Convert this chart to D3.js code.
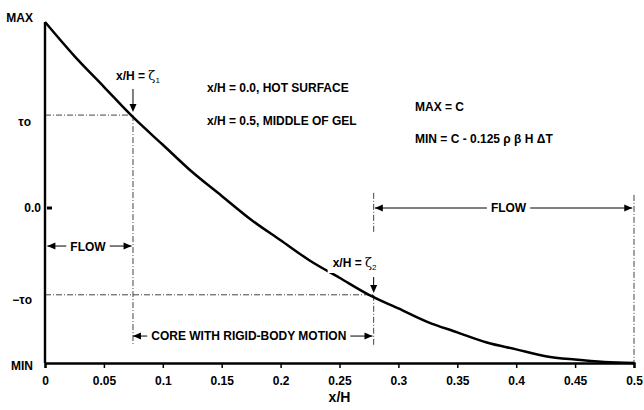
<!DOCTYPE html>
<html>
<head>
<meta charset="utf-8">
<script src="https://cdn.jsdelivr.net/npm/d3@7"></script>
<style>
  body { margin: 0; background: #fff; }
  svg text { font-family: "Liberation Sans", Arial, sans-serif; font-weight: bold; fill: #000; }
</style>
</head>
<body>
<svg id="chart" width="644" height="410"></svg>
<script>
// curve (stress, 1 = MAX, 0 = MIN)
const xh = [0, 0.025, 0.05, 0.075, 0.1, 0.125, 0.15, 0.175, 0.2, 0.225, 0.25,
  0.275, 0.3, 0.325, 0.35, 0.375, 0.4, 0.425, 0.45, 0.475, 0.5];
const stress = [1, 0.90, 0.81, 0.72, 0.64, 0.56, 0.49, 0.42, 0.36, 0.30, 0.25,
  0.20, 0.16, 0.12, 0.09, 0.06, 0.04, 0.02, 0.01, 0.003, 0];

const xTicks = [0, 0.05, 0.1, 0.15, 0.2, 0.25, 0.3, 0.35, 0.4, 0.45, 0.5];
const yLabels = ["MAX", "\u03C4o", "0.0", "\u2212\u03C4o", "MIN"];
const yValues = [1, 0.727, 0.4545, 0.2, 0];

const zeta = [0.0747, 0.279]; // x/H = zeta1, zeta2
const tauO = 0.727, minusTauO = 0.2, zero = 0.4545;

const notes = ["x/H = 0.0, HOT SURFACE", "x/H = 0.5, MIDDLE OF GEL"];
const formulas = ["MAX = C", "MIN = C - 0.125 \u03C1 \u03B2 H \u0394T"];

const svg = d3.select("#chart");

const x = d3.scaleLinear().domain([0, 0.5]).range([45, 634]);
const y = d3.scaleLinear().domain([0, 1]).range([363, 22]);

const dash = "6,2,1,2";
const dashColor = "#444";

function arrowHead(px, py, dir) {
  const L = 8, W = 3.5;
  let p;
  if (dir === "left") p = [[px, py], [px + L, py - W], [px + L, py + W]];
  else if (dir === "right") p = [[px, py], [px - L, py - W], [px - L, py + W]];
  else p = [[px, py], [px - W, py - L], [px + W, py - L]];
  svg.append("path").attr("d", "M" + p.join("L") + "Z").attr("fill", "#000");
}

function dashLine(x1, y1, x2, y2) {
  svg.append("line")
    .attr("x1", x1).attr("y1", y1).attr("x2", x2).attr("y2", y2)
    .attr("stroke", dashColor).attr("stroke-width", 1)
    .attr("stroke-dasharray", dash);
}

// dash-dot guide lines
dashLine(x(0), y(tauO), x(zeta[0]), y(tauO));
dashLine(x(zeta[0]), y(tauO), x(zeta[0]), y(0.05));
dashLine(x(0), y(minusTauO), x(zeta[1]), y(minusTauO));
dashLine(x(zeta[1]), y(minusTauO), x(zeta[1]), y(0.047));
dashLine(x(zeta[1]), y(0.499), x(zeta[1]), y(0.382));
dashLine(x(0.5), y(0.493), x(0.5), y(0));

// curve
svg.append("path")
  .datum(xh.map((d, i) => [d, stress[i]]))
  .attr("fill", "none")
  .attr("stroke", "#000")
  .attr("stroke-width", 2.5)
  .attr("stroke-linejoin", "round")
  .attr("d", d3.line().curve(d3.curveMonotoneX).x(d => x(d[0])).y(d => y(d[1])));

// x axis
const xAxis = d3.axisBottom(x)
  .tickValues(xTicks)
  .tickSize(5)
  .tickPadding(8)
  .tickFormat(d => String(+d.toFixed(2)));

const gx = svg.append("g")
  .attr("transform", `translate(0, ${y(0)})`)
  .call(xAxis);
gx.select(".domain").attr("stroke-width", 2.4);
gx.selectAll(".tick line").attr("stroke-width", 1.5);
gx.selectAll("text").style("font-size", "12px").style("font-weight", "bold")
  .style("font-family", "'Liberation Sans', Arial, sans-serif");

svg.append("text")
  .attr("x", x(0.25)).attr("y", 402)
  .attr("text-anchor", "middle")
  .style("font-size", "14px")
  .text("x/H");

// y axis line
svg.append("line")
  .attr("x1", x(0)).attr("x2", x(0))
  .attr("y1", y(1)).attr("y2", y(0))
  .attr("stroke", "#000").attr("stroke-width", 2.4);

// small mark at 0.0
svg.append("line")
  .attr("x1", x(0) + 2).attr("x2", x(0) + 7)
  .attr("y1", y(zero)).attr("y2", y(zero))
  .attr("stroke", "#000").attr("stroke-width", 3);

// y labels (nudged like the original)
const yLabX = [33, 31, 41, 32, 33];
const yLabDy = [0, 11, 4, 9, 7];
svg.selectAll(".ylab")
  .data(yLabels)
  .enter()
  .append("text")
  .attr("class", "ylab")
  .attr("x", (d, i) => yLabX[i])
  .attr("y", (d, i) => y(yValues[i]) + yLabDy[i])
  .attr("text-anchor", "end")
  .style("font-size", "12px")
  .text(d => d);

// horizontal double arrows with label
function spanArrow(a, b, mid, v, label, dy) {
  const py = y(v);
  const t = svg.append("text")
    .attr("x", x(mid)).attr("y", py + dy)
    .attr("text-anchor", "middle")
    .style("font-size", "12px")
    .text(label);
  const w = t.node().getComputedTextLength();
  const left = x(mid) - w / 2 - 4, right = x(mid) + w / 2 + 4;
  svg.append("line").attr("x1", x(a)).attr("x2", left).attr("y1", py).attr("y2", py)
    .attr("stroke", "#000").attr("stroke-width", 1);
  svg.append("line").attr("x1", right).attr("x2", x(b)).attr("y1", py).attr("y2", py)
    .attr("stroke", "#000").attr("stroke-width", 1);
  arrowHead(x(a), py, "left");
  arrowHead(x(b), py, "right");
}

spanArrow(0.002, 0.0735, 0.0365, 0.343, "FLOW", 5);
spanArrow(zeta[0], zeta[1] - 0.001, 0.173, 0.079, "CORE WITH RIGID-BODY MOTION", 4);
spanArrow(zeta[1] + 0.001, 0.4985, 0.3935, zero, "FLOW", 4);

// zeta labels with down arrows
function zetaLabel(z, sub, vTop, vTip, dx, baseline, knockout) {
  const t = svg.append("text")
    .attr("x", x(z) + dx).attr("y", baseline)
    .style("font-size", "12px");
  t.append("tspan").text("x/H = ");
  t.append("tspan").style("font-weight", "normal").style("font-family", "'DejaVu Serif', serif")
    .style("font-size", "13px").text("\u03B6");
  t.append("tspan").style("font-weight", "normal").style("font-size", "8px")
    .attr("dy", 3).text(sub);
  if (knockout) {
    const bb = t.node().getBBox();
    svg.insert("rect", () => t.node())
      .attr("x", bb.x - 5).attr("y", bb.y - 1)
      .attr("width", bb.width + 6).attr("height", bb.height + 2)
      .attr("fill", "#fff");
  }
  svg.append("line")
    .attr("x1", x(z)).attr("x2", x(z))
    .attr("y1", y(vTop)).attr("y2", y(vTip) - 6)
    .attr("stroke", "#000").attr("stroke-width", 1);
  arrowHead(x(z), y(vTip), "down");
}

zetaLabel(zeta[0], "1", 0.8035, 0.736, -17, 80, false);
zetaLabel(zeta[1], "2", 0.252, 0.205, -41, 267, true);

// notes
svg.selectAll(".note")
  .data(notes)
  .enter()
  .append("text")
  .attr("x", 207)
  .attr("y", (d, i) => 92 + i * 33)
  .style("font-size", "12px")
  .text(d => d);

svg.selectAll(".formula")
  .data(formulas)
  .enter()
  .append("text")
  .attr("x", 415)
  .attr("y", (d, i) => 111 + i * 32)
  .style("font-size", "12px")
  .text(d => d);
</script>
</body>
</html>
